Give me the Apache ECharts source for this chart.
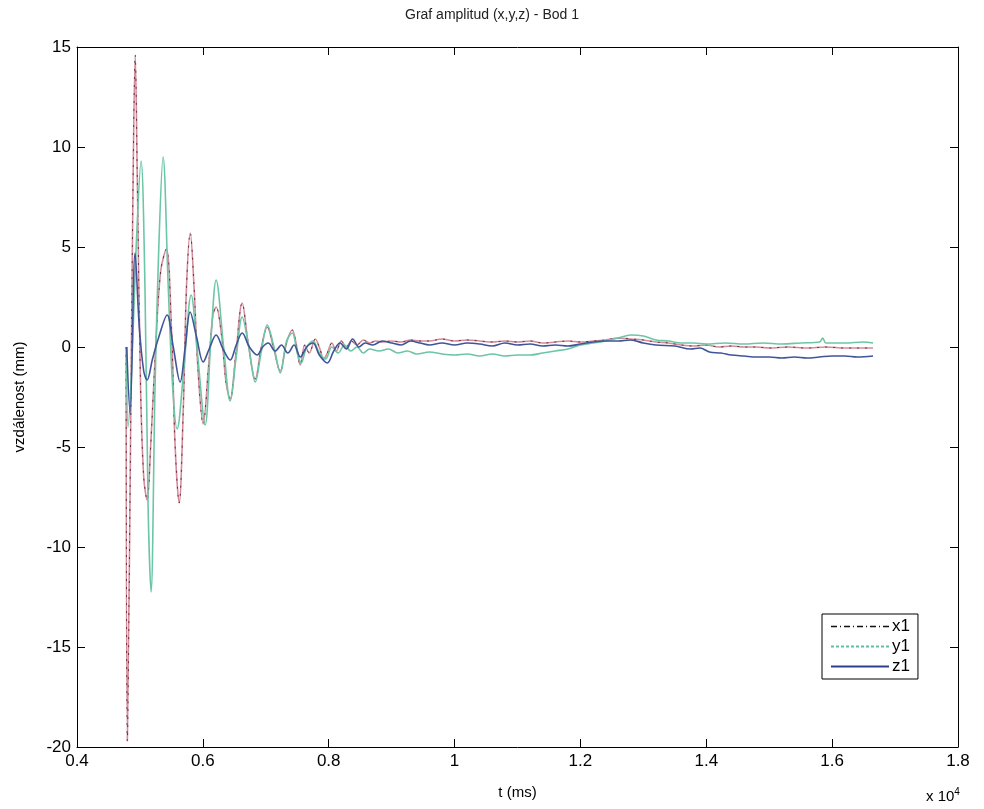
<!DOCTYPE html>
<html><head><meta charset="utf-8">
<script src="https://cdn.jsdelivr.net/npm/echarts@6/dist/echarts.min.js"></script>
<style>html,body{margin:0;padding:0;background:#fff}#c{width:984px;height:809px}</style>
</head><body><div id="c"></div>
<script>
const title = 'Graf amplitud (x,y,z) - Bod 1';
const xTicks = [4000, 6000, 8000, 10000, 12000, 14000, 16000, 18000];
const yTicks = [-20, -15, -10, -5, 0, 5, 10, 15];

const x1Time = [4780,4800,4850,4890,4925,4960,5010,5060,5114,5170,5250,5330,5420,5500,5560,5623,5690,5740,5800,5860,5920,6005,6090,6160,6211,6300,6370,6434,6520,6625,6720,6832,6930,7023,7120,7230,7330,7421,7480,7548,7620,7690,7787,7860,7920,7978,8050,8120,8200,8280,8360,8450,8550,8650,8750,8850,9000,9150,9300,9450,9600,9800,10000,10200,10400,10600,10800,11000,11200,11400,11600,11800,12000,12200,12400,12600,12800,13000,13200,13400,13600,13800,14000,14200,14400,14600,14800,15000,15300,15600,15900,16200,16500,16650];
const x1Val  = [0,-19.7,-5,8,14.6,8,-2,-6.5,-7.65,-5,0,3.8,4.9,1,-5,-7.8,-3,3,5.7,3,-1,-3.85,-1,1.6,2.0,0.5,-1.8,-2.6,-0.5,2.2,0.2,-1.6,0,1.0,0,-1.2,0.2,0.85,0.2,-0.9,0.1,-0.3,0.4,-0.1,-0.6,-0.3,0.2,-0.2,0.3,0,0.3,0.1,0.35,0.2,0.3,0.25,0.3,0.25,0.35,0.3,0.3,0.4,0.3,0.35,0.3,0.25,0.3,0.25,0.3,0.2,0.25,0.3,0.25,0.3,0.35,0.45,0.4,0.35,0.25,0.2,0.1,0.05,0.1,0,0.05,0,0,-0.05,0,-0.05,0,-0.05,-0.05,-0.05];

const y1Time = [4790,4810,4870,4940,5018,5080,5130,5177,5240,5300,5368,5450,5520,5591,5700,5814,5920,6036,6130,6211,6330,6434,6530,6625,6730,6832,6930,7023,7130,7230,7330,7421,7500,7560,7650,7750,7850,7950,8050,8150,8250,8350,8450,8550,8650,8800,8950,9100,9250,9400,9600,9800,10000,10200,10400,10600,10800,11000,11200,11400,11600,11800,12000,12200,12400,12600,12800,13000,13200,13400,13600,13800,14000,14300,14600,14900,15200,15500,15800,15850,15900,16200,16500,16650];
const y1Val  = [0,-4,-1,5,9.3,3,-8,-12.25,-2,5,9.5,3,-2,-4.1,-1,2.6,-0.5,-3.9,0.5,3.35,0,-2.7,-0.5,1.5,0,-1.75,-0.2,1.1,0,-1.3,0.3,0.7,-0.3,-0.8,0,0.3,-0.3,-0.6,0,-0.3,0.1,-0.2,0,-0.3,-0.1,-0.2,-0.1,-0.3,-0.2,-0.35,-0.25,-0.35,-0.4,-0.35,-0.45,-0.35,-0.45,-0.4,-0.4,-0.3,-0.2,-0.1,0.1,0.2,0.3,0.45,0.6,0.55,0.35,0.3,0.2,0.2,0.15,0.2,0.15,0.2,0.15,0.2,0.25,0.45,0.2,0.2,0.25,0.2];

const z1Time = [4790,4843,4923,4990,5060,5114,5200,5300,5432,5530,5639,5720,5798,5900,6005,6100,6211,6320,6434,6530,6625,6740,6864,6950,7039,7150,7250,7350,7450,7550,7650,7750,7850,7978,8080,8180,8280,8380,8480,8580,8700,8850,9000,9150,9300,9450,9600,9800,10000,10200,10400,10600,10800,11000,11200,11400,11600,11800,12000,12200,12400,12600,12800,13000,13200,13500,13750,13900,14050,14230,14400,14600,14800,15000,15200,15400,15600,15800,16000,16200,16400,16650];
const z1Val  = [0,-3.3,4.7,1,-1.2,-1.65,-0.6,0.5,1.6,0,-1.75,0,1.75,0.5,-0.75,-0.1,0.6,-0.1,-0.65,0.1,0.7,0,-0.4,0,0.2,-0.2,0.1,-0.3,0.1,-0.5,0,0.2,-0.4,-0.8,-0.2,0.2,-0.1,0.4,0,0.2,0.1,0.3,0.2,0.1,0.3,0.2,0.1,0.2,0.1,0.2,0.15,0.05,0.2,0.1,0.15,0.05,0.1,0.05,0.15,0.25,0.3,0.3,0.35,0.2,0.1,0.05,-0.1,-0.05,-0.25,-0.3,-0.4,-0.45,-0.5,-0.5,-0.55,-0.5,-0.55,-0.5,-0.45,-0.45,-0.5,-0.45];

const pair = (ts, vs) => ts.map((t, i) => [t, vs[i]]);
const font = 'Liberation Sans, Arial, sans-serif';

const chart = echarts.init(document.getElementById('c'), null, {renderer: 'canvas'});
const baseX = {type: 'value', min: xTicks[0], max: xTicks[xTicks.length-1], interval: 2000,
  splitLine: {show: false}, axisLine: {onZero: false, lineStyle: {color: '#000', width: 1}},
  axisTick: {inside: true, length: 8, lineStyle: {color: '#000'}}};
const baseY = {type: 'value', min: yTicks[0], max: yTicks[yTicks.length-1], interval: 5,
  splitLine: {show: false}, axisLine: {onZero: false, lineStyle: {color: '#000', width: 1}},
  axisTick: {inside: true, length: 8, lineStyle: {color: '#000'}}};

chart.setOption({
  animation: false,
  backgroundColor: '#fff',
  title: {text: title, left: 'center', top: 3, textStyle: {fontFamily: font, fontSize: 14, fontWeight: 'normal', color: '#222'}},
  grid: {left: 77, right: 26, top: 47, bottom: 62, containLabel: false},
  xAxis: [
    Object.assign({}, baseX, {position: 'bottom', name: 't (ms)', nameLocation: 'middle', nameGap: 38,
      nameTextStyle: {fontFamily: font, fontSize: 15, color: '#000'},
      axisLabel: {fontFamily: font, fontSize: 17, color: '#000', margin: 6, formatter: v => String(+(v/10000).toFixed(1))}}),
    Object.assign({}, baseX, {position: 'top', axisLabel: {show: false}})
  ],
  yAxis: [
    Object.assign({}, baseY, {position: 'left', name: 'vzdálenost (mm)', nameLocation: 'middle', nameGap: 50,
      nameTextStyle: {fontFamily: font, fontSize: 15, color: '#000'},
      axisLabel: {fontFamily: font, fontSize: 17, color: '#000', margin: 6}}),
    Object.assign({}, baseY, {position: 'right', axisLabel: {show: false}})
  ],
  legend: {
    show: true, orient: 'vertical', left: 822, top: 614, itemWidth: 58, itemHeight: 10, itemGap: 3,
    padding: [4, 8, 4, 8], borderColor: '#000', borderWidth: 1, backgroundColor: '#fff',
    textStyle: {fontFamily: font, fontSize: 17, color: '#000', padding: [0, 0, 0, -2]},
    data: [
      {name: 'x1', itemStyle: {opacity: 0}, lineStyle: {color: '#111', width: 1.5, type: [6, 3, 1, 3]}},
      {name: 'y1', itemStyle: {opacity: 0}, lineStyle: {color: '#5fbf9c', width: 2, type: [3, 2]}},
      {name: 'z1', itemStyle: {opacity: 0}, lineStyle: {color: '#2f3f8f', width: 2}}
    ]
  },
  graphic: [{
    type: 'text', left: 926, top: 787,
    style: {text: 'x 10{s|4}', font: '15px ' + font, fill: '#000',
      rich: {s: {fontSize: 10, fontFamily: font, fill: '#000', verticalAlign: 'top', padding: [0, 0, 10, 0]}}}
  }],
  series: [
    {name: 'x1', type: 'line', symbol: 'none', smooth: 0.35, data: pair(x1Time, x1Val),
      lineStyle: {color: '#d98a9c', width: 1.6}, itemStyle: {color: '#d98a9c'}, z: 2},
    {name: 'x1', type: 'line', symbol: 'none', smooth: 0.35, data: pair(x1Time, x1Val),
      lineStyle: {color: 'rgba(20,20,20,0.7)', width: 1, type: [2, 6]}, itemStyle: {color: '#222'}, z: 3},
    {name: 'y1', type: 'line', symbol: 'none', smooth: 0.35, data: pair(y1Time, y1Val),
      lineStyle: {color: '#6cc6a6', width: 1.6}, itemStyle: {color: '#6cc6a6'}, z: 4},
    {name: 'z1', type: 'line', symbol: 'none', smooth: 0.35, data: pair(z1Time, z1Val),
      lineStyle: {color: '#3e5598', width: 1.6}, itemStyle: {color: '#3e5598'}, z: 5}
  ]
});
</script></body></html>
